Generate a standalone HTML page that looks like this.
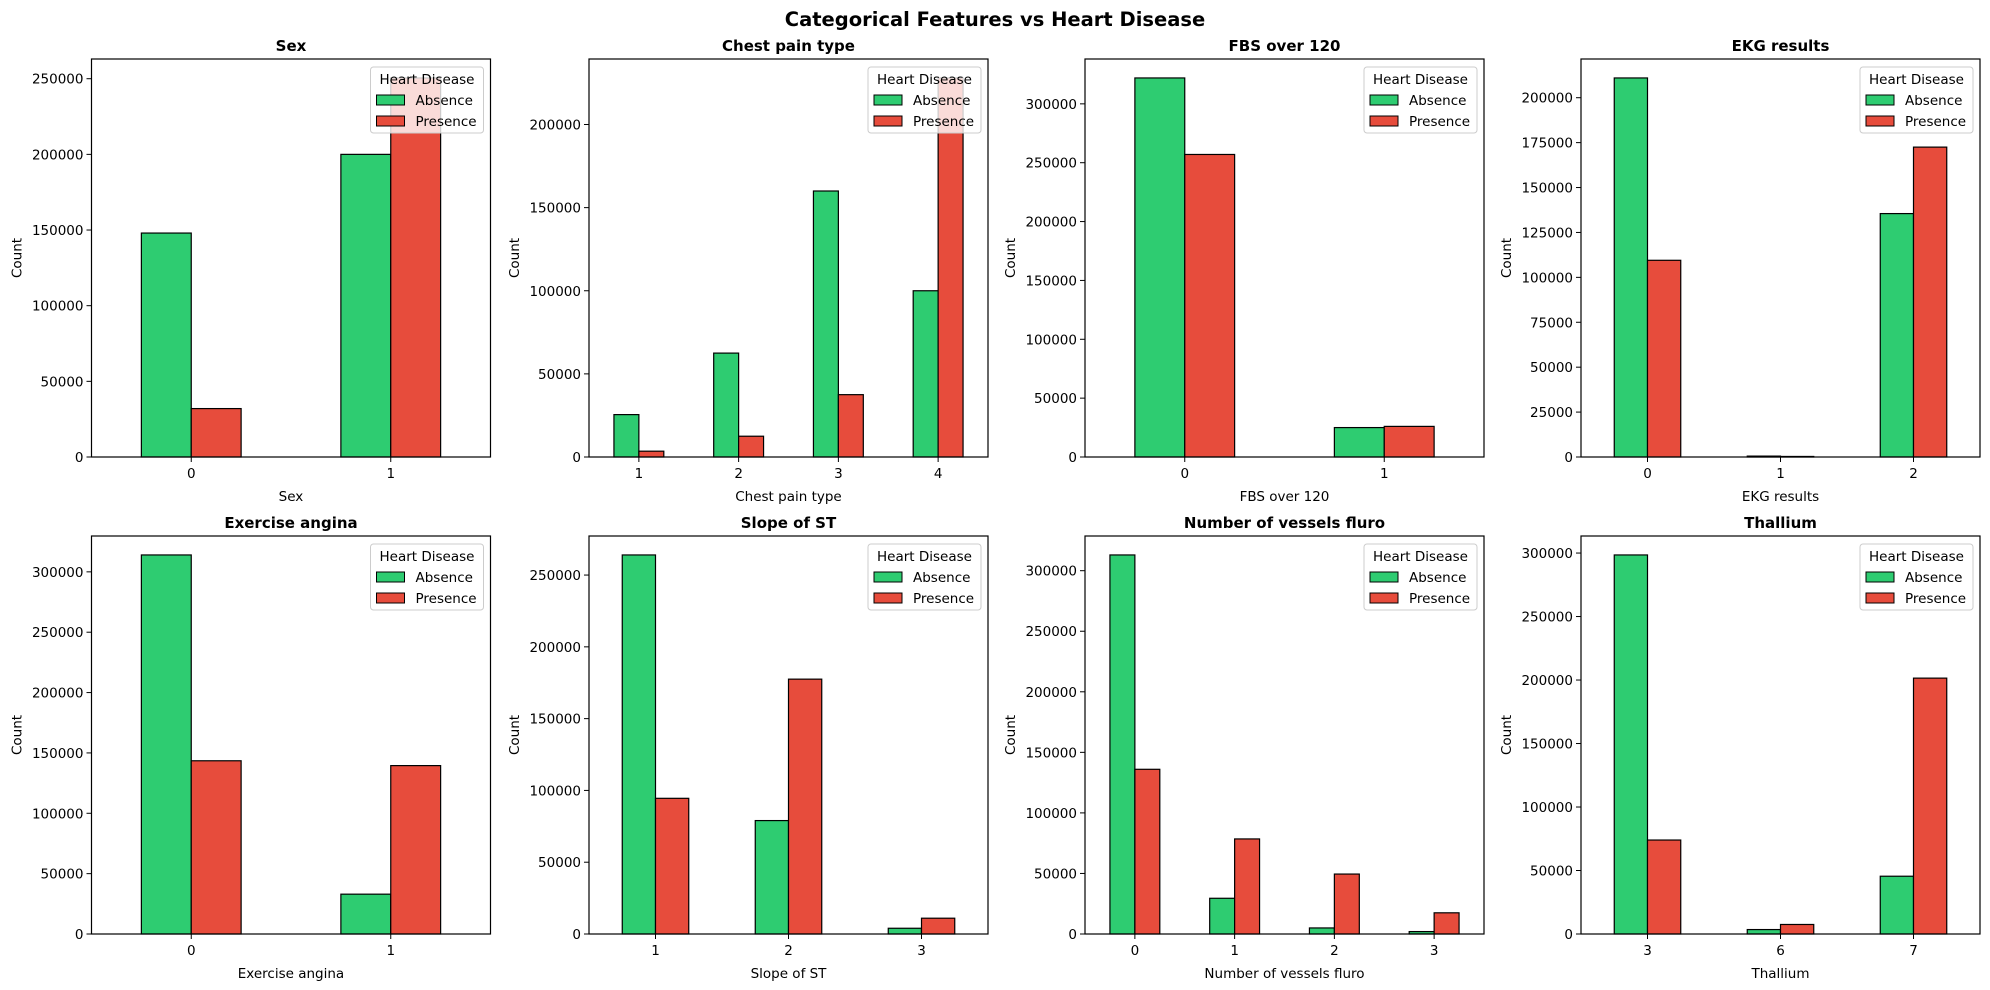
<!DOCTYPE html>
<html><head><meta charset="utf-8"><style>
body{margin:0;background:#fff;width:1990px;height:985px;overflow:hidden}
svg{font-family:"DejaVu Sans","Liberation Sans",sans-serif}
</style></head><body>
<svg id="fig" width="1990" height="985" xmlns="http://www.w3.org/2000/svg">
<text x="995" y="26" text-anchor="middle" font-size="19.5" font-weight="bold">Categorical Features vs Heart Disease</text>
</svg>
<script>
const titles = ["Sex","Chest pain type","FBS over 120","EKG results","Exercise angina","Slope of ST","Number of vessels fluro","Thallium"];
const categories = [["0","1"],["1","2","3","4"],["0","1"],["0","1","2"],["0","1"],["1","2","3"],["0","1","2","3"],["3","6","7"]];
const absence = [[148000,200000],[25500,62500,160000,100000],[322000,25000],[211000,500,135500],[314000,33000],[264000,79000,4000],[313000,29500,5000,2000],[298500,3500,45500]];
const presence = [[32000,250500],[3500,12500,37500,228000],[257000,26000],[109500,300,172500],[143500,139500],[94500,177500,11000],[136000,78500,49500,17500],[74000,7500,201500]];
const tickSteps = [50000,50000,50000,25000,50000,50000,50000,50000];

const NS="http://www.w3.org/2000/svg";
const svg=document.getElementById('fig');
const colX=[91.5,589,1085,1581], W=399;
const rowY=[59,536], H=398;
function mk(tag,attrs,parent){const e=document.createElementNS(NS,tag);for(const k in attrs)e.setAttribute(k,attrs[k]);(parent||svg).appendChild(e);return e;}
function txt(s,attrs,parent){const e=mk('text',attrs,parent);e.textContent=s;return e;}

titles.forEach((t,i)=>{
  const L=colX[i%4], T=rowY[Math.floor(i/4)], R=L+W, B=T+H;
  const g=mk('g',{});
  
  
  const cats=categories[i], n=cats.length;
  const vmax=Math.max(...absence[i],...presence[i])*1.05;
  const y=v=>B-v/vmax*H;
  const x=v=>L+(v+0.5)/n*W;
  for(let v=0;v<=vmax;v+=tickSteps[i]){
    const yy=y(v);
    mk('line',{x1:L-5,x2:L,y1:yy,y2:yy,stroke:'#000','stroke-width':1},g);
    const tl=txt(String(v),{x:L-8,y:yy+5,'text-anchor':'end','font-size':13.5},g);
    
    
  }
  cats.forEach((c,j)=>{
    const bw=0.25/n*W;
    const a=mk('rect',{x:x(j)-bw,y:y(absence[i][j]),width:bw,height:B-y(absence[i][j]),fill:'#2ecc71',stroke:'#000','stroke-width':1.2},g);
    
    
    const p=mk('rect',{x:x(j),y:y(presence[i][j]),width:bw,height:B-y(presence[i][j]),fill:'#e74c3c',stroke:'#000','stroke-width':1.2},g);
    
    
    mk('line',{x1:x(j),x2:x(j),y1:B,y2:B+5,stroke:'#000','stroke-width':1},g);
    const xl=txt(c,{x:x(j),y:B+21,'text-anchor':'middle','font-size':13.5},g);
    
    
  });
  mk('rect',{x:L,y:T,width:W,height:H,fill:'none',stroke:'#000','stroke-width':1.2},g);
  const st=txt(t,{x:L+W/2,y:T-8,'text-anchor':'middle','font-size':15,'font-weight':'bold'},g);
  
  
  const xt=txt(t,{x:L+W/2,y:B+44,'text-anchor':'middle','font-size':13.5},g);
  
  
  const yt=txt('Count',{x:0,y:0,'text-anchor':'middle','font-size':13.5,transform:`translate(${L-70},${T+H/2}) rotate(-90)`},g);
  
  
  const lg=mk('g',{},g);
  
  
  const lx=R-120, ly=T+8;
  mk('rect',{x:lx,y:ly,width:113,height:66,rx:3,fill:'#fff','fill-opacity':0.8,stroke:'#ccc','stroke-width':1},lg);
  txt('Heart Disease',{x:lx+56.5,y:ly+17,'text-anchor':'middle','font-size':13.5},lg);
  [['Absence','#2ecc71'],['Presence','#e74c3c']].forEach((e,k)=>{
    const en=mk('g',{},lg);
    
    
    mk('rect',{x:lx+6,y:ly+28+k*21,width:28,height:10,fill:e[1],stroke:'#000','stroke-width':1},en);
    txt(e[0],{x:lx+45,y:ly+38+k*21,'font-size':13.5},en);
  });
});
</script>
</body></html>
